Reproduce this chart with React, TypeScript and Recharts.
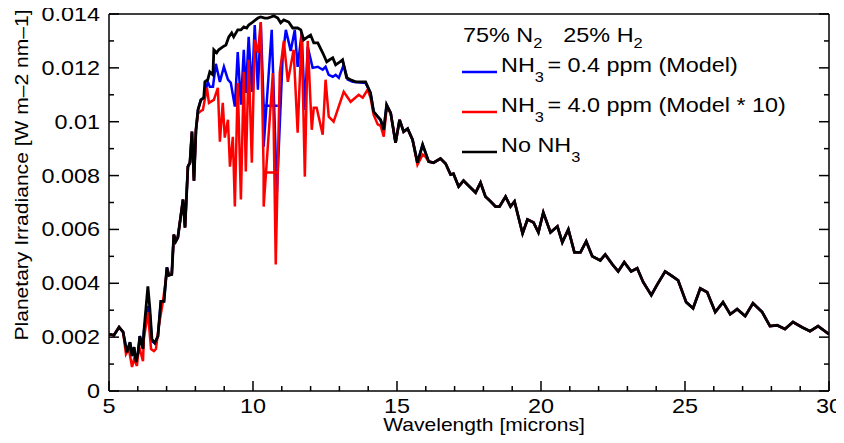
import { LineChart, Line, XAxis, YAxis } from "recharts";

// wavelength grid [microns] and irradiance [W m-2 nm-1]
const noNh3Wl = [
  5.0, 5.17, 5.35, 5.49, 5.62, 5.73, 5.8, 5.87, 5.94, 6.01, 6.07, 6.18, 6.21, 6.35, 6.42, 6.49, 6.59, 6.7, 6.8, 6.91,
  7.01, 7.08, 7.18, 7.25, 7.32, 7.39, 7.5, 7.57, 7.64, 7.74, 7.81, 7.88, 7.95, 8.02, 8.09, 8.19, 8.29, 8.33, 8.43, 8.5,
  8.61, 8.64, 8.74, 8.81, 8.95, 9.06, 9.16, 9.26, 9.33, 9.47, 9.58, 9.68, 9.78, 9.85, 9.99, 10.17, 10.27, 10.41, 10.51,
  10.62, 10.72, 10.86, 10.96, 11.07, 11.24, 11.38, 11.55, 11.66, 11.76, 11.9, 12.0, 12.11, 12.25, 12.42, 12.56, 12.66,
  12.77, 12.87, 12.98, 13.11, 13.25, 13.39, 13.56, 13.91, 14.08, 14.19, 14.33, 14.43, 14.54, 14.64, 14.78, 14.95, 15.09,
  15.23, 15.37, 15.54, 15.71, 15.89, 15.99, 16.1, 16.27, 16.51, 16.69, 16.86, 16.96, 17.14, 17.31, 17.48, 17.73, 17.9,
  18.07, 18.25, 18.42, 18.56, 18.77, 18.94, 19.08, 19.36, 19.53, 19.74, 19.91, 20.08, 20.33, 20.57, 20.74, 20.95, 21.16,
  21.37, 21.57, 21.78, 22.06, 22.23, 22.48, 22.68, 22.89, 23.13, 23.34, 23.55, 23.83, 24.04, 24.31, 24.56, 24.76, 25.04,
  25.28, 25.53, 25.77, 26.05, 26.32, 26.57, 26.81, 27.09, 27.36, 27.68, 27.95, 28.2, 28.47, 28.75, 29.06, 29.34, 29.62,
  30.0,
];
const noNh3Irr = [
  0.00211, 0.00207, 0.00237, 0.00219, 0.00144, 0.00181, 0.0013, 0.00163, 0.00107, 0.00144, 0.00204, 0.00156, 0.00219,
  0.00389, 0.00304, 0.00193, 0.00178, 0.00204, 0.00333, 0.00333, 0.00459, 0.0043, 0.00433, 0.00581, 0.00556, 0.0057,
  0.00656, 0.00711, 0.00607, 0.00833, 0.00848, 0.00963, 0.00781, 0.0097, 0.01044, 0.01081, 0.01089, 0.01148, 0.01156,
  0.01185, 0.01174, 0.01267, 0.01256, 0.01267, 0.01278, 0.01285, 0.01315, 0.0133, 0.01315, 0.01341, 0.01341, 0.01352,
  0.01348, 0.01359, 0.0137, 0.01385, 0.01389, 0.01385, 0.01385, 0.01389, 0.01393, 0.01385, 0.01367, 0.01378, 0.0137,
  0.01348, 0.01348, 0.01341, 0.01304, 0.01315, 0.01322, 0.01293, 0.01293, 0.01256, 0.01222, 0.0123, 0.01237, 0.01211,
  0.01219, 0.0123, 0.01163, 0.01156, 0.01148, 0.01148, 0.01107, 0.01037, 0.01019, 0.01007, 0.0097, 0.01063, 0.01033,
  0.00922, 0.01007, 0.00963, 0.00974, 0.00933, 0.00848, 0.00915, 0.00885, 0.00852, 0.00848, 0.00863, 0.00844, 0.00804,
  0.00807, 0.00759, 0.00781, 0.00763, 0.00737, 0.00774, 0.00722, 0.00704, 0.00685, 0.00685, 0.00722, 0.00685, 0.00704,
  0.00585, 0.00637, 0.00626, 0.00589, 0.00663, 0.00589, 0.00611, 0.00552, 0.006, 0.00515, 0.00515, 0.00556, 0.005,
  0.00485, 0.00507, 0.0047, 0.00444, 0.00478, 0.00444, 0.00456, 0.00404, 0.00356, 0.00396, 0.00444, 0.00426, 0.00411,
  0.0033, 0.00307, 0.00381, 0.00367, 0.00293, 0.0033, 0.00285, 0.00304, 0.00278, 0.00326, 0.00293, 0.00241, 0.00244,
  0.0023, 0.00256, 0.00237, 0.00222, 0.00241, 0.00211,
];

// 0.4 ppm NH3: parts where it leaves the no-NH3 curve
const modelLowWl = [6.35, 6.42, 6.49];
const modelLowIrr = [0.00315, 0.00285, 0.00185];
const modelBandWl = [
  8.29, 8.43, 8.5, 8.61, 8.71, 8.85, 8.99, 9.13, 9.23, 9.37, 9.47, 9.58, 9.68, 9.75, 9.85, 9.96, 10.06, 10.17, 10.27,
  10.37, 10.86, 10.37, 10.37, 10.65, 10.83, 11.03, 11.14, 11.31, 11.45, 11.55, 11.69, 11.8, 11.9, 12.07, 12.25, 12.42,
  12.52, 12.63, 12.77, 12.87, 12.98, 13.15, 13.29, 13.46, 13.91, 14.08,
];
const modelBandIrr = [
  0.01089, 0.01148, 0.0113, 0.0113, 0.01215, 0.01148, 0.01204, 0.01156, 0.01144, 0.01056, 0.01259, 0.01063, 0.01267,
  0.01107, 0.01315, 0.01111, 0.01359, 0.01119, 0.01367, 0.01059, 0.01059, 0.01059, 0.00907, 0.01341, 0.00737, 0.01241,
  0.01341, 0.01263, 0.01341, 0.01204, 0.0133, 0.01044, 0.01278, 0.012, 0.01204, 0.01193, 0.01204, 0.01174, 0.01167,
  0.01174, 0.01163, 0.01211, 0.01156, 0.01148, 0.01144, 0.01107,
];

// 4.0 ppm NH3 (model * 10)
const tenxLowWl = [5.59, 5.69, 5.8, 5.87, 5.97, 6.04, 6.18, 6.21, 6.35, 6.46, 6.56, 6.63, 6.73, 6.87, 7.01];
const tenxLowIrr = [
  0.00137, 0.00156, 0.00089, 0.00119, 0.00093, 0.00167, 0.00111, 0.00193, 0.00293, 0.00156, 0.00148, 0.00156, 0.00241,
  0.0033, 0.00444,
];
const tenxBandWl = [
  8.02, 8.09, 8.19, 8.26, 8.4, 8.47, 8.64, 8.78, 8.85, 8.95, 9.02, 9.13, 9.2, 9.3, 9.37, 9.47, 9.58, 9.68, 9.75, 9.85,
  9.96, 10.06, 10.17, 10.27, 10.37, 10.86, 10.37, 10.37, 10.69, 10.79, 10.93, 11.07, 11.21, 11.41, 11.55, 11.69, 11.8,
  11.9, 12.04, 12.11, 12.21, 12.42, 12.52, 12.63, 12.8, 13.15, 13.39, 13.67, 13.81, 13.98, 14.08, 14.19, 14.33, 14.43,
  14.54, 14.64,
];
const tenxBandIrr = [
  0.0097, 0.0103, 0.0104, 0.01044, 0.01126, 0.0107, 0.01081, 0.01126, 0.00926, 0.0107, 0.00941, 0.01007, 0.00833,
  0.00944, 0.00685, 0.01144, 0.00711, 0.01185, 0.00815, 0.0123, 0.00848, 0.01304, 0.01256, 0.0137, 0.00811, 0.00811,
  0.00811, 0.00685, 0.01181, 0.0047, 0.01181, 0.013, 0.01148, 0.01267, 0.00959, 0.0133, 0.00796, 0.013, 0.0097, 0.01052,
  0.01052, 0.00952, 0.01156, 0.01019, 0.01, 0.01111, 0.01074, 0.011, 0.01089, 0.01119, 0.0109, 0.01025, 0.0099, 0.00985,
  0.00945, 0.0105,
];
const tenxMidWl = [15.71, 15.89, 15.99];
const tenxMidIrr = [0.0084, 0.00878, 0.0087];

const xTicks = [5, 6, 7, 8, 9, 10, 11, 12, 13, 14, 15, 16, 17, 18, 19, 20, 21, 22, 23, 24, 25, 26, 27, 28, 29, 30];
const xMajor = [5, 10, 15, 20, 25, 30];
const yTicks = [0, 0.001, 0.002, 0.003, 0.004, 0.005, 0.006, 0.007, 0.008, 0.009, 0.01, 0.011, 0.012, 0.013, 0.014];
const yMajor = [0, 0.002, 0.004, 0.006, 0.008, 0.01, 0.012, 0.014];

type Pt = { wl: number; irr: number };
const toPts = (wl: number[], irr: number[]): Pt[] => wl.map((w, i) => ({ wl: w, irr: irr[i] }));

// put a read-off segment in place of the base curve over the segment's range
function patch(base: Pt[], seg: Pt[]): Pt[] {
  const lo = Math.min(...seg.map((p) => p.wl));
  const hi = Math.max(...seg.map((p) => p.wl));
  return [...base.filter((p) => p.wl < lo), ...seg, ...base.filter((p) => p.wl > hi)];
}

const noNh3 = toPts(noNh3Wl, noNh3Irr);
const model = patch(patch(noNh3, toPts(modelLowWl, modelLowIrr)), toPts(modelBandWl, modelBandIrr));
const tenx = patch(
  patch(patch(noNh3, toPts(tenxLowWl, tenxLowIrr)), toPts(tenxBandWl, tenxBandIrr)),
  toPts(tenxMidWl, tenxMidIrr),
);

const FONT = "'Liberation Sans', Arial, Helvetica, sans-serif";
const SX = 1.17; // the original lettering is a bit wide
const isMajor = (list: number[], v: number) => list.some((m) => Math.abs(m - v) < 1e-9);

function BottomTick({ x, y, payload }: any) {
  const major = isMajor(xMajor, payload.value);
  return (
    <g>
      <line x1={x} x2={x} y1={y} y2={y - (major ? 10 : 5)} stroke="#000" strokeWidth={1.5} />
      {major && (
        <g transform={`translate(${x},${y + 22}) scale(${SX},1)`}>
          <text textAnchor="middle" fontFamily={FONT} fontSize={20} fill="#000">
            {payload.value}
          </text>
        </g>
      )}
    </g>
  );
}

function TopTick({ x, y, payload }: any) {
  const major = isMajor(xMajor, payload.value);
  return <line x1={x} x2={x} y1={y} y2={y + (major ? 10 : 5)} stroke="#000" strokeWidth={1.5} />;
}

function LeftTick({ x, y, payload }: any) {
  const major = isMajor(yMajor, payload.value);
  return (
    <g>
      <line x1={x} x2={x + (major ? 10 : 5)} y1={y} y2={y} stroke="#000" strokeWidth={1.5} />
      {major && (
        <g transform={`translate(${x - 9},${y + 7}) scale(${SX},1)`}>
          <text textAnchor="end" fontFamily={FONT} fontSize={20} fill="#000">
            {String(payload.value)}
          </text>
        </g>
      )}
    </g>
  );
}

function RightTick({ x, y, payload }: any) {
  const major = isMajor(yMajor, payload.value);
  return <line x1={x} x2={x - (major ? 10 : 5)} y1={y} y2={y} stroke="#000" strokeWidth={1.5} />;
}

const W = 836;
const H = 435;
const frame = { stroke: "#000", strokeWidth: 1.5 };

export default function App() {
  return (
    <div style={{ position: "relative", top: -8, width: W, height: H - 8 }}>
      <LineChart width={W} height={H} margin={{ top: 0, right: 0, bottom: 0, left: 0 }}>
        <XAxis
          xAxisId="b"
          dataKey="wl"
          type="number"
          domain={[5, 30]}
          allowDataOverflow
          ticks={xTicks}
          interval={0}
          height={44}
          tickSize={0}
          tickMargin={0}
          tickLine={false}
          axisLine={frame}
          tick={(p: any) => <BottomTick {...p} />}
        />
        <XAxis
          xAxisId="t"
          orientation="top"
          type="number"
          domain={[5, 30]}
          allowDataOverflow
          ticks={xTicks}
          interval={0}
          height={14}
          tickSize={0}
          tickMargin={0}
          tickLine={false}
          axisLine={frame}
          tick={(p: any) => <TopTick {...p} />}
        />
        <YAxis
          yAxisId="l"
          type="number"
          domain={[0, 0.014]}
          allowDataOverflow
          ticks={yTicks}
          interval={0}
          width={101}
          tickSize={0}
          tickMargin={0}
          tickLine={false}
          axisLine={frame}
          tick={(p: any) => <LeftTick {...p} />}
        />
        <YAxis
          yAxisId="r"
          orientation="right"
          type="number"
          domain={[0, 0.014]}
          allowDataOverflow
          ticks={yTicks}
          interval={0}
          width={15}
          tickSize={0}
          tickMargin={0}
          tickLine={false}
          axisLine={frame}
          tick={(p: any) => <RightTick {...p} />}
        />
        <Line xAxisId="b" yAxisId="l" data={model} dataKey="irr" type="linear" stroke="#0000ff" strokeWidth={2.5} dot={false} isAnimationActive={false} />
        <Line xAxisId="b" yAxisId="l" data={tenx} dataKey="irr" type="linear" stroke="#ff0000" strokeWidth={2.5} dot={false} isAnimationActive={false} />
        <Line xAxisId="b" yAxisId="l" data={noNh3} dataKey="irr" type="linear" stroke="#000000" strokeWidth={2.8} dot={false} isAnimationActive={false} />
      </LineChart>
      <svg
        width={W}
        height={H}
        style={{ position: "absolute", left: 0, top: 0, pointerEvents: "none", overflow: "visible" }}
      >
        <g fontFamily={FONT} fill="#000">
          <g transform={`translate(20,175) rotate(-90) scale(${SX},1)`}>
            <text textAnchor="middle" fontSize={18}>Planetary Irradiance [W m–2 nm–1]</text>
          </g>
          <g transform={`translate(476,431) scale(${SX},1)`}>
            <text textAnchor="middle" fontSize={18}>Wavelength [microns]</text>
          </g>

          <g transform={`translate(455,42) scale(${SX},1)`}>
            <text fontSize={20}>
              75% N<tspan dy={6} fontSize={14}>2</tspan>
              <tspan dx={18} dy={-6}>25% H</tspan>
              <tspan dy={6} fontSize={14}>2</tspan>
            </text>
          </g>

          <line x1={454} x2={489} y1={72} y2={72} stroke="#0000ff" strokeWidth={2.5} />
          <g transform={`translate(493,72) scale(${SX},1)`}>
            <text fontSize={20}>
              NH<tspan dy={10} fontSize={14}>3</tspan>
              <tspan dx={3} dy={-10}>= 0.4 ppm (Model)</tspan>
            </text>
          </g>

          <line x1={454} x2={489} y1={112} y2={112} stroke="#ff0000" strokeWidth={2.5} />
          <g transform={`translate(493,112) scale(${SX},1)`}>
            <text fontSize={20}>
              NH<tspan dy={10} fontSize={14}>3</tspan>
              <tspan dx={3} dy={-10}>= 4.0 ppm (Model * 10)</tspan>
            </text>
          </g>

          <line x1={454} x2={489} y1={152} y2={152} stroke="#000000" strokeWidth={2.5} />
          <g transform={`translate(493,152) scale(${SX},1)`}>
            <text fontSize={20}>
              No NH<tspan dy={10} fontSize={14}>3</tspan>
            </text>
          </g>
        </g>
      </svg>
    </div>
  );
}
